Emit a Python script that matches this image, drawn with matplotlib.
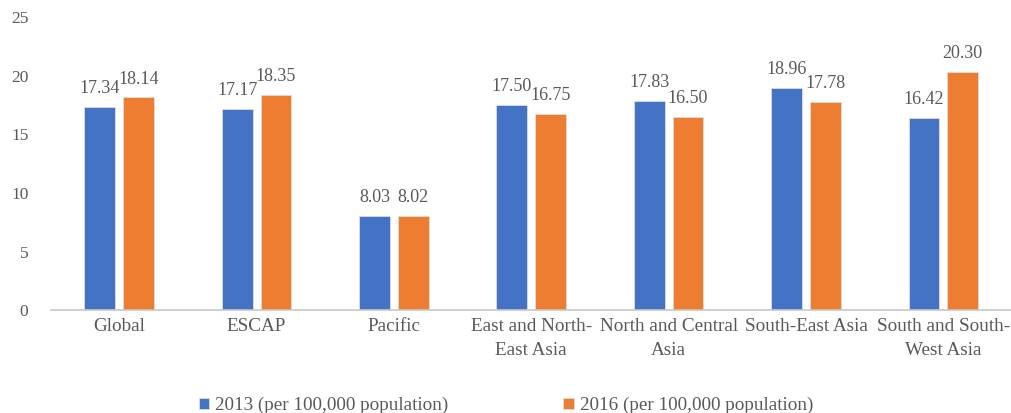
import matplotlib.pyplot as plt
import numpy as np

plt.rcParams['font.family'] = ['Liberation Serif', 'DejaVu Serif']

# data
regions = ['Global', 'ESCAP', 'Pacific', 'East and North-\nEast Asia',
           'North and Central\nAsia', 'South-East Asia', 'South and South-\nWest Asia']
y2013 = [17.34, 17.17, 8.03, 17.50, 17.83, 18.96, 16.42]
y2016 = [18.14, 18.35, 8.02, 16.75, 16.50, 17.78, 20.30]
series_names = ['2013 (per 100,000 population)', '2016 (per 100,000 population)']

blue = '#4472C4'
orange = '#ED7D31'
txt = '#595959'

fig = plt.figure(figsize=(10.12, 4.13), dpi=100)
ax = fig.add_axes([0.05, 0.249, 0.95, 0.71])

x = np.arange(len(regions))
w = 0.225
off = 0.141
b1 = ax.bar(x - off, y2013, w, color=blue, edgecolor='#DDDDDD', linewidth=0.6, label=series_names[0])
b2 = ax.bar(x + off, y2016, w, color=orange, edgecolor='#DDDDDD', linewidth=0.6, label=series_names[1])

for bars, vals in ((b1, y2013), (b2, y2016)):
    for b, v in zip(bars, vals):
        ax.annotate('%.2f' % v, (b.get_x() + b.get_width() / 2, v),
                    xytext=(0, 7), textcoords='offset points',
                    ha='center', va='bottom', fontsize=13, color=txt)

ax.set_ylim(0, 25)
ax.set_xlim(-0.5, len(regions) - 0.5)
ax.set_yticks(range(0, 26, 5))
ax.set_xticks(x)
ax.set_xticklabels(regions, fontsize=13.8, color=txt, linespacing=1.5)
for label in ax.get_yticklabels():
    label.set_fontsize(12.5)
    label.set_color(txt)
ax.tick_params(axis='both', length=0)
ax.tick_params(axis='x', pad=6)
ax.tick_params(axis='y', pad=16)

for s in ['top', 'right', 'left']:
    ax.spines[s].set_visible(False)
ax.spines['bottom'].set_color('#C8C8C8')
ax.spines['bottom'].set_linewidth(1.2)

leg = fig.legend(loc='lower center', bbox_to_anchor=(0.5, -0.045), ncol=2, frameon=False,
                 fontsize=13.8, handlelength=0.55, handleheight=0.55, handletextpad=0.3,
                 columnspacing=6)
for t in leg.get_texts():
    t.set_color(txt)

plt.savefig('out.png', dpi=100)
